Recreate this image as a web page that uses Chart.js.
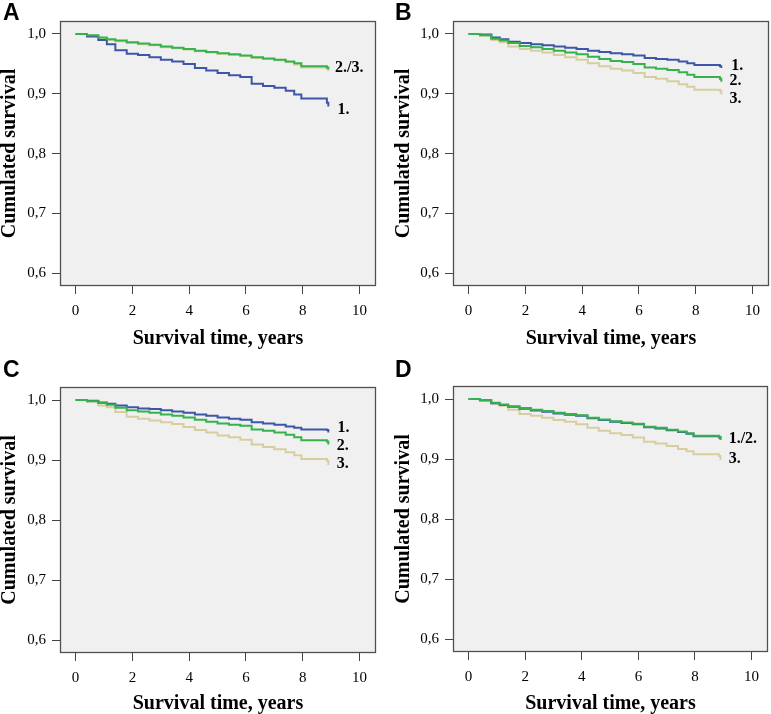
<!DOCTYPE html>
<html>
<head>
<meta charset="utf-8">
<script src="https://cdn.jsdelivr.net/npm/chart.js@4.4.1/dist/chart.umd.min.js"></script>
<style>
  html, body { margin: 0; padding: 0; background: #fff; overflow: hidden; width: 771px; height: 714px; }
  canvas { position: absolute; }
</style>
</head>
<body>
<canvas id="panelA" width="385" height="357" style="left:0;top:0"></canvas>
<canvas id="panelB" width="386" height="357" style="left:385px;top:0"></canvas>
<canvas id="panelC" width="385" height="357" style="left:0;top:357px"></canvas>
<canvas id="panelD" width="386" height="357" style="left:385px;top:357px"></canvas>
<script>
// survival time (years) at which each estimate starts
const years = [0, 0.4, 0.8, 1.1, 1.4, 1.8, 2.2, 2.6, 3.0, 3.4, 3.8, 4.2, 4.6, 5.0, 5.4, 5.8, 6.2, 6.6, 7.0, 7.4, 7.7, 7.95, 8.85, 8.9];

// cumulated survival
const survA1 = [1.0, 0.996, 0.990, 0.983, 0.973, 0.967, 0.965, 0.961, 0.957, 0.954, 0.950, 0.943, 0.939, 0.935, 0.931, 0.928, 0.917, 0.913, 0.910, 0.905, 0.899, 0.892, 0.885, 0.879];
const survA2 = [1.0, 0.998, 0.994, 0.991, 0.989, 0.986, 0.984, 0.982, 0.979, 0.977, 0.975, 0.972, 0.970, 0.968, 0.966, 0.964, 0.961, 0.959, 0.957, 0.954, 0.951, 0.946, 0.944, 0.941];
const survA3 = [1.0, 0.997, 0.993, 0.990, 0.988, 0.985, 0.983, 0.981, 0.978, 0.976, 0.974, 0.971, 0.969, 0.967, 0.965, 0.963, 0.960, 0.958, 0.956, 0.953, 0.949, 0.944, 0.942, 0.938];

const survB1 = [1.0, 0.999, 0.994, 0.991, 0.987, 0.985, 0.983, 0.981, 0.979, 0.977, 0.975, 0.972, 0.970, 0.968, 0.966, 0.964, 0.960, 0.958, 0.957, 0.954, 0.951, 0.948, 0.946, 0.943];
const survB2 = [1.0, 0.998, 0.992, 0.989, 0.985, 0.980, 0.978, 0.975, 0.972, 0.969, 0.966, 0.962, 0.958, 0.955, 0.953, 0.950, 0.944, 0.942, 0.940, 0.936, 0.932, 0.928, 0.925, 0.920];
const survB3 = [1.0, 0.997, 0.990, 0.986, 0.979, 0.975, 0.972, 0.969, 0.965, 0.961, 0.957, 0.951, 0.946, 0.942, 0.939, 0.935, 0.928, 0.925, 0.921, 0.916, 0.912, 0.907, 0.905, 0.899];

const survC1 = [1.0, 0.999, 0.996, 0.994, 0.991, 0.988, 0.986, 0.985, 0.983, 0.981, 0.979, 0.976, 0.974, 0.971, 0.969, 0.967, 0.963, 0.961, 0.959, 0.956, 0.954, 0.951, 0.950, 0.946];
const survC2 = [1.0, 0.998, 0.995, 0.992, 0.987, 0.983, 0.981, 0.979, 0.976, 0.974, 0.971, 0.967, 0.964, 0.961, 0.959, 0.957, 0.951, 0.949, 0.946, 0.942, 0.938, 0.933, 0.931, 0.926];
const survC3 = [1.0, 0.997, 0.991, 0.988, 0.980, 0.972, 0.969, 0.966, 0.963, 0.960, 0.955, 0.950, 0.946, 0.941, 0.938, 0.934, 0.926, 0.922, 0.918, 0.913, 0.908, 0.902, 0.899, 0.892];

const survD1 = [1.0, 0.998, 0.993, 0.990, 0.987, 0.984, 0.981, 0.979, 0.976, 0.974, 0.972, 0.968, 0.965, 0.962, 0.960, 0.958, 0.953, 0.951, 0.948, 0.945, 0.942, 0.938, 0.936, 0.932];
const survD2 = [1.0, 0.998, 0.994, 0.991, 0.988, 0.985, 0.982, 0.980, 0.977, 0.975, 0.973, 0.969, 0.966, 0.963, 0.961, 0.959, 0.954, 0.952, 0.949, 0.946, 0.943, 0.939, 0.937, 0.933];
const survD3 = [1.0, 0.997, 0.992, 0.989, 0.982, 0.975, 0.972, 0.969, 0.965, 0.962, 0.958, 0.952, 0.947, 0.943, 0.940, 0.936, 0.929, 0.926, 0.922, 0.917, 0.913, 0.908, 0.905, 0.899];

const xTicks = [0, 2, 4, 6, 8, 10];
const yTicks = [0.6, 0.7, 0.8, 0.9, 1.0];
const yTickLabels = ['0,6', '0,7', '0,8', '0,9', '1,0'];
const xTitle = 'Survival time, years';
const yTitle = 'Cumulated survival';

const labelsA = ['2./3.', '1.'];
const labelsB = ['1.', '2.', '3.'];
const labelsC = ['1.', '2.', '3.'];
const labelsD = ['1./2.', '3.'];

const COLORS = { g1: '#3d56a7', g2: '#36b24c', g3: '#d6ce9e' };

const panels = [
  { id: 'panelA', letter: 'A', s1: survA1, s2: survA2, s3: survA3, w: 385, plotLeft: 60, plotTop: 21, plotRight: 376, plotBottom: 286, letterX: 3, yTitlePad: 0, xTitlePad: 8,
    labels: [{ text: labelsA[0], x: 9.14, y: 0.944 }, { text: labelsA[1], x: 9.22, y: 0.874 }] },
  { id: 'panelB', letter: 'B', s1: survB1, s2: survB2, s3: survB3, w: 386, plotLeft: 68, plotTop: 21, plotRight: 384, plotBottom: 286, letterX: 10, yTitlePad: 9, xTitlePad: 8,
    labels: [{ text: labelsB[0], x: 9.25, y: 0.947 }, { text: labelsB[1], x: 9.19, y: 0.921 }, { text: labelsB[2], x: 9.19, y: 0.891 }] },
  { id: 'panelC', letter: 'C', s1: survC1, s2: survC2, s3: survC3, w: 385, plotLeft: 60, plotTop: 30, plotRight: 376, plotBottom: 296, letterX: 3, yTitlePad: 0, xTitlePad: 0,
    labels: [{ text: labelsC[0], x: 9.22, y: 0.954 }, { text: labelsC[1], x: 9.2, y: 0.923 }, { text: labelsC[2], x: 9.2, y: 0.893 }] },
  { id: 'panelD', letter: 'D', s1: survD1, s2: survD2, s3: survD3, w: 386, plotLeft: 68, plotTop: 29, plotRight: 383, plotBottom: 295, letterX: 10, yTitlePad: 9, xTitlePad: 0,
    labels: [{ text: labelsD[0], x: 9.19, y: 0.934 }, { text: labelsD[1], x: 9.19, y: 0.901 }] }
];

const H = 357;
const serif = '"Liberation Serif", "Times New Roman", serif';

const panelDecor = {
  id: 'panelDecor',
  beforeDraw(chart) {
    const { ctx, chartArea: a } = chart;
    ctx.save();
    ctx.fillStyle = '#f0f0f0';
    ctx.fillRect(a.left, a.top, a.right - a.left, a.bottom - a.top);
    ctx.restore();
  },
  afterDraw(chart, args, opts) {
    const { ctx, chartArea: a, scales: { x, y } } = chart;
    ctx.save();
    ctx.strokeStyle = '#505050';
    ctx.lineWidth = 1.3;
    ctx.strokeRect(a.left + 0.5, a.top + 0.5, a.right - a.left - 1, a.bottom - a.top - 1);
    ctx.fillStyle = '#000';
    ctx.font = 'bold 23px "Liberation Sans", Arial, sans-serif';
    ctx.textBaseline = 'alphabetic';
    ctx.fillText(opts.letter, opts.letterX, 20);
    ctx.font = 'bold 16px ' + serif;
    ctx.textBaseline = 'middle';
    opts.labels.forEach(l => ctx.fillText(l.text, x.getPixelForValue(l.x), y.getPixelForValue(l.y)));
    ctx.restore();
  }
};

function curve(vals) {
  return vals.map((v, i) => ({ x: years[i], y: v }));
}

function line(vals, color) {
  return { data: curve(vals), borderColor: color, borderWidth: 2, pointRadius: 0, stepped: true, fill: false };
}

panels.forEach(p => {
  new Chart(document.getElementById(p.id), {
    type: 'line',
    data: {
      // green first so it is drawn on top
      datasets: [line(p.s2, COLORS.g2), line(p.s1, COLORS.g1), line(p.s3, COLORS.g3)]
    },
    options: {
      responsive: false,
      animation: false,
      events: [],
      layout: { padding: { top: p.plotTop, right: p.w - p.plotRight, left: 0, bottom: 0 } },
      plugins: {
        legend: { display: false },
        tooltip: { enabled: false },
        panelDecor: { letter: p.letter, letterX: p.letterX, labels: p.labels }
      },
      scales: {
        x: {
          type: 'linear',
          min: -0.55,
          max: 10.58,
          afterBuildTicks: s => { s.ticks = xTicks.map(v => ({ value: v })); },
          afterFit: s => { s.height = H - p.plotBottom; s.paddingLeft = 0; s.paddingRight = 0; },
          ticks: { color: '#000', font: { family: serif, size: 15 }, padding: 8, maxRotation: 0, autoSkip: false },
          grid: { drawOnChartArea: false, drawTicks: true, tickLength: 8, color: '#444' },
          border: { display: false },
          title: { display: true, text: xTitle, color: '#000', font: { family: serif, size: 20, weight: 'bold', lineHeight: 1 }, padding: { top: 0, bottom: p.xTitlePad } }
        },
        y: {
          type: 'linear',
          min: 0.5788,
          max: 1.0217,
          afterBuildTicks: s => { s.ticks = yTicks.map(v => ({ value: v })); },
          afterFit: s => { s.width = p.plotLeft; s.paddingTop = 0; s.paddingBottom = 0; },
          ticks: { color: '#000', font: { family: serif, size: 15 }, padding: 6, autoSkip: false,
            callback: (v) => yTickLabels[yTicks.findIndex(t => Math.abs(t - v) < 1e-6)] },
          grid: { drawOnChartArea: false, drawTicks: true, tickLength: 8, color: '#444' },
          border: { display: false },
          title: { display: true, text: yTitle, color: '#000', font: { family: serif, size: 20, weight: 'bold', lineHeight: 1 }, padding: { top: p.yTitlePad, bottom: 0 } }
        }
      }
    },
    plugins: [panelDecor]
  });
});
</script>
</body>
</html>
